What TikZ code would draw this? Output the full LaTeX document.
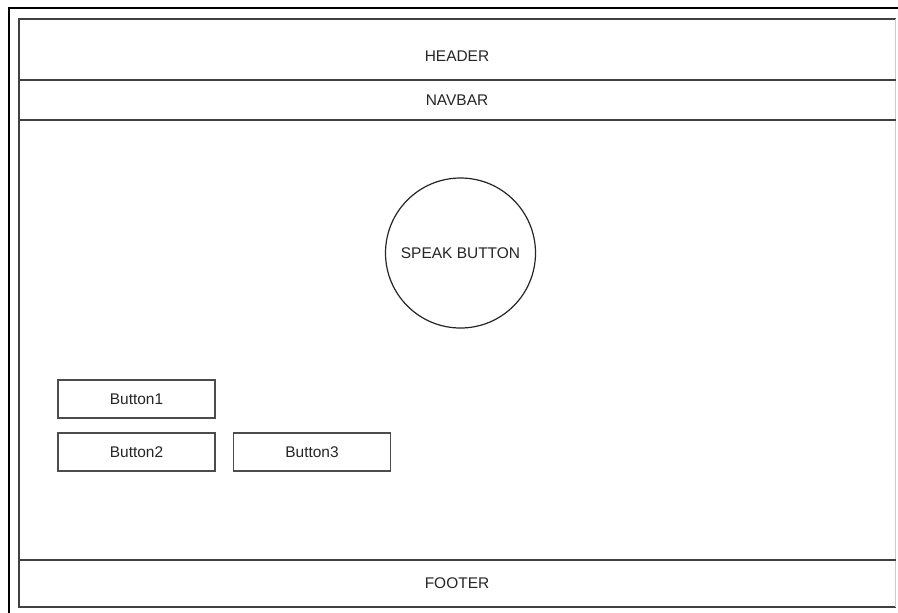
\documentclass[tikz,border=0pt]{standalone}
\usepackage{fontspec}
\setmainfont{Liberation Sans}
\begin{document}
\begin{tikzpicture}[x=0.75pt,y=-0.75pt,
  frame/.style={draw=black!75,line width=1.1pt},
  label/.style={font=\fontsize{11.6pt}{13pt}\selectfont,text=black!85,inner sep=0pt},
  btn/.style={draw=black!70,line width=1.1pt,minimum width=157*0.75pt,minimum height=38*0.75pt,
    inner sep=0pt,font=\fontsize{11.6pt}{13pt}\selectfont,text=black!85},
  speak/.style={circle,draw=black!85,line width=0.9pt,minimum size=150*0.75pt,inner sep=0pt,
    font=\fontsize{11.6pt}{13pt}\selectfont,text=black!85}]
\useasboundingbox (0,0) rectangle (898,612);
\fill[white] (0,0) rectangle (898,612);
\begin{scope}
  \clip (0,0) rectangle (898,612);
  % outer window edge
  \draw[black,line width=1.6pt] (9,640) -- (9,8) -- (920,8);
  % page layout
  \draw[frame] (895.5,19) -- (19,19) -- (19,607) -- (895.5,607);
  \draw[draw=black!20,line width=0.8pt] (895.5,19) -- (895.5,607);
  \draw[frame] (19,80) -- (895.5,80);
  \draw[frame] (19,120) -- (895.5,120);
  \draw[frame] (19,560) -- (895.5,560);
\end{scope}
\node[label] (header) at (457,56) {HEADER};
\node[label] (navbar) at (457,100) {NAVBAR};
\node[label] (footer) at (457,583) {FOOTER};
\node[speak] (speak) at (460.5,253) {SPEAK BUTTON};
\node[btn] (b1) at (136.5,399) {Button1};
\node[btn] (b2) at (136.5,452) {Button2};
\node[btn] (b3) at (312,452) {Button3};
\end{tikzpicture}
\end{document}
